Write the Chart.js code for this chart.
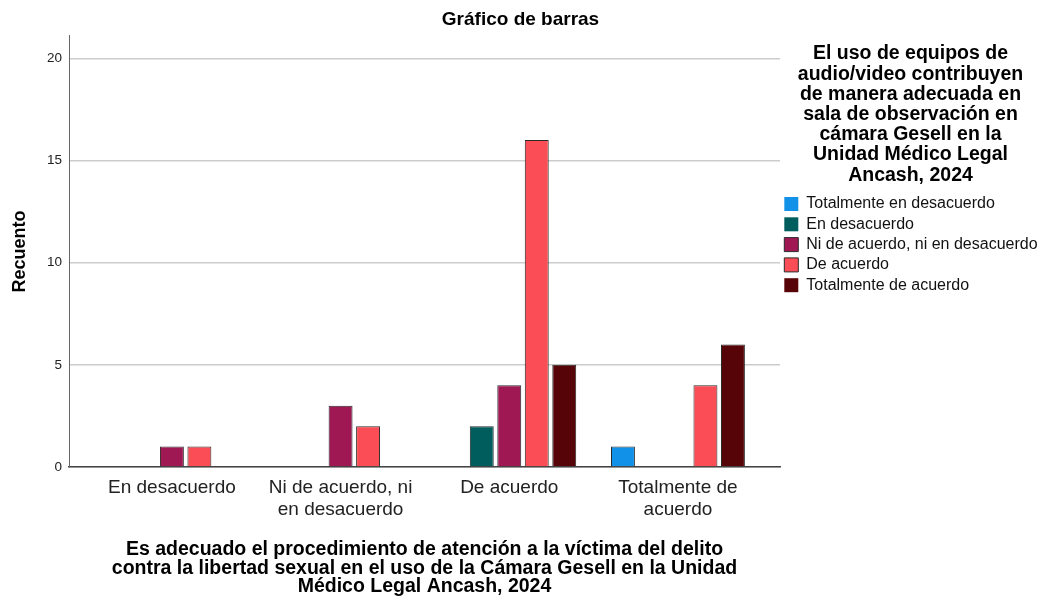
<!DOCTYPE html>
<html>
<head>
<meta charset="utf-8">
<script src="https://cdn.jsdelivr.net/npm/chart.js@4.4.1/dist/chart.umd.min.js"></script>
<style>
  html, body { margin: 0; padding: 0; background: #fff; }
  #wrap { width: 1041px; height: 598px; position: relative; }
</style>
</head>
<body>
<div id="wrap"><canvas id="c"></canvas></div>
<script>
// ---- data ----
const categories = [
  ['En desacuerdo'],
  ['Ni de acuerdo, ni', 'en desacuerdo'],
  ['De acuerdo'],
  ['Totalmente de', 'acuerdo']
];
const seriesNames = [
  'Totalmente en desacuerdo',
  'En desacuerdo',
  'Ni de acuerdo, ni en desacuerdo',
  'De acuerdo',
  'Totalmente de acuerdo'
];
const totalmenteEnDesacuerdo = [0, 0, 0, 1];
const enDesacuerdo = [0, 0, 2, 0];
const niDeAcuerdoNiEnDesacuerdo = [1, 3, 4, 0];
const deAcuerdo = [1, 2, 16, 4];
const totalmenteDeAcuerdo = [0, 0, 5, 6];
const yTickValues = [0, 5, 10, 15, 20];
const chartTitle = 'Gráfico de barras';
const yTitle = 'Recuento';
const xTitle = [
  'Es adecuado el procedimiento de atención a la víctima del delito',
  'contra la libertad sexual en el uso de la Cámara Gesell en la Unidad',
  'Médico Legal Ancash, 2024'
];
const legendTitle = [
  'El uso de equipos de',
  'audio/video contribuyen',
  'de manera adecuada en',
  'sala de observación en',
  'cámara Gesell en la',
  'Unidad Médico Legal',
  'Ancash, 2024'
];

// ---- styles ----
const colors = ['#1192e8', '#005d5d', '#9f1853', '#fa4d56', '#570408'];
const FONT = "'Liberation Sans', Arial, Helvetica, sans-serif";

const seriesValues = [totalmenteEnDesacuerdo, enDesacuerdo, niDeAcuerdoNiEnDesacuerdo, deAcuerdo, totalmenteDeAcuerdo];
const datasets = seriesNames.map((name, k) => ({
  label: name,
  data: seriesValues[k].map((v, i) => ({ x: i, y: v })),
  backgroundColor: colors[k],
  borderColor: '#2a2a2a',
  borderWidth: ctx => (ctx.raw && ctx.raw.y === 0) ? 0 : 1,
  categoryPercentage: 0.815,
  barPercentage: 0.87
}));

new Chart(document.getElementById('c'), {
  type: 'bar',
  data: { datasets },
  options: {
    responsive: true,
    maintainAspectRatio: false,
    animation: false,
    layout: { padding: 0 },
    plugins: {
      title: {
        display: true,
        text: chartTitle,
        color: '#000',
        font: { family: FONT, size: 19, weight: 'bold' },
        padding: { top: 8.5, bottom: 4.5 }
      },
      legend: {
        position: 'right',
        align: 'start',
        maxWidth: 261,
        title: {
          display: true,
          text: legendTitle,
          color: '#000',
          font: { family: FONT, size: 19.5, weight: 'bold', lineHeight: '20.2px' },
          padding: { top: 44.25, bottom: 127.25 }
        },
        labels: {
          boxWidth: 14,
          boxHeight: 14,
          padding: 4.3,
          color: '#111',
          font: { family: FONT, size: 16 }
        }
      },
      tooltip: { enabled: false }
    },
    scales: {
      x: {
        type: 'linear',
        offset: false,
        min: -0.61,
        max: 3.605,
        afterBuildTicks: s => { s.ticks = categories.map((c, i) => ({ value: i })); },
        afterFit: s => { s.height = 131; },
        ticks: {
          callback: v => categories[v],
          autoSkip: false,
          maxRotation: 0,
          padding: 10,
          color: '#222',
          font: { family: FONT, size: 19, lineHeight: '22px' }
        },
        grid: { display: false, drawTicks: false, offset: false },
        border: { display: true, color: '#444', width: 1.5 },
        title: {
          display: true,
          text: xTitle,
          color: '#000',
          font: { family: FONT, size: 19.5, weight: 'bold', lineHeight: '18.5px' },
          padding: { top: 0, bottom: 2 }
        }
      },
      y: {
        min: 0,
        max: 21.1,
        afterBuildTicks: s => { s.ticks = yTickValues.map(v => ({ value: v })); },
        afterFit: s => { s.width = 69; },
        ticks: {
          padding: 7,
          color: '#222',
          font: { family: FONT, size: 13.5 }
        },
        grid: { color: '#cccccc', lineWidth: 1.5, drawTicks: false },
        border: { display: true, color: '#666', width: 1 },
        title: {
          display: true,
          text: yTitle,
          color: '#000',
          font: { family: FONT, size: 18, weight: 'bold' },
          padding: { top: 9, bottom: 0 }
        }
      }
    }
  }
});
</script>
</body>
</html>
